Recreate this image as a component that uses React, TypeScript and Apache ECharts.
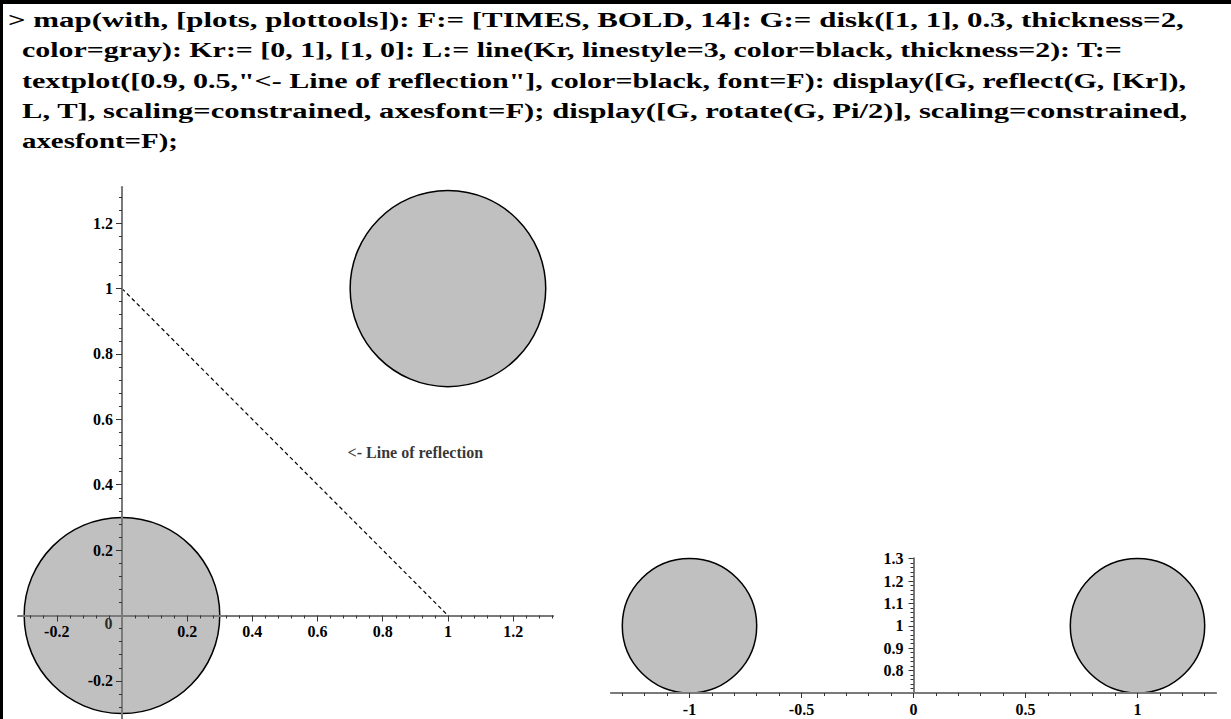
import React, { useEffect, useRef } from 'react';
import * as echarts from 'echarts';

const W = 1231;
const H = 719;

// ---- command text (Maple input) ----
const commandLines = [
  '> map(with, [plots, plottools]): F:= [TIMES, BOLD, 14]: G:= disk([1, 1], 0.3, thickness=2,',
  'color=gray): Kr:= [0, 1], [1, 0]: L:= line(Kr, linestyle=3, color=black, thickness=2): T:=',
  'textplot([0.9, 0.5,"<- Line of reflection"], color=black, font=F): display([G, reflect(G, [Kr]),',
  'L, T], scaling=constrained, axesfont=F); display([G, rotate(G, Pi/2)], scaling=constrained,',
  'axesfont=F);',
];

// ---- left plot: disk, its reflection, line of reflection, annotation ----
const leftDisks = [
  [1, 1, 0.3],
  [0, 0, 0.3],
];
const reflectionLine = [
  [0, 1],
  [1, 0],
];
const annotationPoint = [0.9, 0.5];
const annotationText = '<- Line of reflection';
const originPoint = [0, 0];
const leftXRange = [-0.318, 1.322];
const leftYRange = [-0.316, 1.31];
const leftXTicks = [-0.2, 0.2, 0.4, 0.6, 0.8, 1, 1.2];
const leftYTicks = [-0.2, 0.2, 0.4, 0.6, 0.8, 1, 1.2];

// ---- right plot: disk and its rotation by Pi/2 ----
const rightDisks = [
  [1, 1, 0.3],
  [-1, 1, 0.3],
];
const rightXRange = [-1.35, 1.35];
const rightYRange = [0.7, 1.3];
const rightXTicks = [-1, -0.5, 0, 0.5, 1];
const rightYTicks = [0.8, 0.9, 1, 1.1, 1.2, 1.3];

function minorTicks(from: number, to: number, step: number, skip: number[]) {
  const out: number[] = [];
  const n = Math.round((to - from) / step);
  for (let i = 0; i <= n; i++) {
    const v = Math.round((from + i * step) * 1000) / 1000;
    if (!skip.some((s) => Math.abs(s - v) < 1e-9)) out.push(v);
  }
  return out;
}

const leftXMinor = minorTicks(-0.28, 1.32, 0.04, [...leftXTicks, 0]);
const leftYMinor = minorTicks(-0.28, 1.28, 0.04, [...leftYTicks, 0]);
const rightXMinor = minorTicks(-1.3, 1.3, 0.1, rightXTicks);
const rightYMinor = minorTicks(0.72, 1.28, 0.02, [...rightYTicks, 0.7]);

const CMD_FONT = '"Liberation Serif", serif';
const CMD_SIZE = 22;
const LABEL_FONT = '"Liberation Serif", serif';

// layout of the two plot areas (pixels)
const LEFT_GRID = { left: 18.3, top: 187.2, width: 534.6, height: 531.6 };
const RIGHT_GRID = { left: 611.1, top: 558.6, width: 604.8, height: 134.4 };
// where each text line of the command starts / ends (pixels)
const lineX = [8, 22, 22, 22, 22];
const lineEnd = [1184, 1123, 1186, 1188, 178];
const lineY = [20, 50.3, 80.6, 110.9, 141.2];

const axisLineStyle = { color: '#7a7a7a', width: 2 };
const tickStyle = { color: '#333', width: 1 };
const labelStyle = {
  fontFamily: LABEL_FONT,
  fontWeight: 'bold' as const,
  fontSize: 16,
  color: '#000',
};

function diskRender(params: any, api: any) {
  const c = api.coord([api.value(0), api.value(1)]);
  const s = api.size([api.value(2), api.value(2)]);
  return {
    type: 'ellipse',
    shape: { cx: c[0], cy: c[1], rx: s[0], ry: s[1] },
    style: { fill: '#c0c0c0', stroke: '#000', lineWidth: 1.5 },
  };
}

// distance (px) from the grid's low edge to the value 0 on an axis
function zeroOffset(range: number[], size: number) {
  if (range[0] >= 0 || range[1] <= 0) return 0;
  return -((0 - range[0]) / (range[1] - range[0])) * size;
}

function makeAxis(opts: {
  grid: number;
  range: number[];
  position: string;
  offset: number;
  ticks: number[];
  tickLen: number;
  labels: boolean;
  labelMargin?: number;
}) {
  return {
    type: 'value',
    gridIndex: opts.grid,
    min: opts.range[0],
    max: opts.range[1],
    position: opts.position,
    offset: opts.offset,
    z: 10,
    axisLine: {
      show: true,
      onZero: false,
      lineStyle: axisLineStyle,
    },
    axisTick: {
      show: true,
      customValues: opts.ticks,
      length: opts.tickLen,
      lineStyle: tickStyle,
    },
    axisLabel: opts.labels
      ? {
          show: true,
          customValues: opts.ticks,
          margin: opts.labelMargin,
          formatter: (v: number) => String(v),
          hideOverlap: false,
          ...labelStyle,
        }
      : { show: false },
    splitLine: { show: false },
    minorTick: { show: false },
  };
}

export default function App() {
  const ref = useRef<HTMLDivElement>(null);

  useEffect(() => {
    const el = ref.current;
    if (!el) return;
    const chart = echarts.init(el, undefined, { renderer: 'svg', width: W, height: H });

    const ctx = document.createElement('canvas').getContext('2d');
    const scales = commandLines.map((t, i) => {
      if (!ctx) return 1;
      ctx.font = `bold ${CMD_SIZE}px ${CMD_FONT}`;
      const natural = ctx.measureText(t).width;
      return natural > 0 ? (lineEnd[i] - lineX[i]) / natural : 1;
    });

    const lxOff = zeroOffset(leftYRange, LEFT_GRID.height);
    const lyOff = zeroOffset(leftXRange, LEFT_GRID.width);
    const ryOff = zeroOffset(rightXRange, RIGHT_GRID.width);

    const option: any = {
      animation: false,
      grid: [
        { ...LEFT_GRID, containLabel: false, outerBoundsMode: 'none' },
        { ...RIGHT_GRID, containLabel: false, outerBoundsMode: 'none' },
      ],
      xAxis: [
        makeAxis({ grid: 0, range: leftXRange, position: 'bottom', offset: lxOff, ticks: leftXTicks, tickLen: 6, labels: true, labelMargin: 8 }),
        makeAxis({ grid: 0, range: leftXRange, position: 'bottom', offset: lxOff, ticks: leftXMinor, tickLen: 3, labels: false }),
        makeAxis({ grid: 1, range: rightXRange, position: 'bottom', offset: 0, ticks: rightXTicks, tickLen: 5, labels: true, labelMargin: 8 }),
        makeAxis({ grid: 1, range: rightXRange, position: 'bottom', offset: 0, ticks: rightXMinor, tickLen: 3, labels: false }),
      ],
      yAxis: [
        makeAxis({ grid: 0, range: leftYRange, position: 'left', offset: lyOff, ticks: leftYTicks, tickLen: 6, labels: true, labelMargin: 9 }),
        makeAxis({ grid: 0, range: leftYRange, position: 'left', offset: lyOff, ticks: leftYMinor, tickLen: 3, labels: false }),
        makeAxis({ grid: 1, range: rightYRange, position: 'left', offset: ryOff, ticks: rightYTicks, tickLen: 5, labels: true, labelMargin: 10 }),
        makeAxis({ grid: 1, range: rightYRange, position: 'left', offset: ryOff, ticks: rightYMinor, tickLen: 3, labels: false }),
      ],
      series: [
        {
          type: 'custom',
          xAxisIndex: 0,
          yAxisIndex: 0,
          data: leftDisks,
          renderItem: diskRender,
          encode: { x: 0, y: 1 },
          clip: false,
          silent: true,
          z: 1,
        },
        {
          type: 'line',
          xAxisIndex: 0,
          yAxisIndex: 0,
          data: reflectionLine,
          symbol: 'none',
          silent: true,
          lineStyle: { color: '#000', width: 1.2, type: [4, 3] },
          z: 3,
        },
        {
          type: 'scatter',
          xAxisIndex: 0,
          yAxisIndex: 0,
          data: [annotationPoint],
          symbolSize: 0,
          silent: true,
          label: {
            show: true,
            position: 'inside',
            formatter: annotationText,
            fontFamily: LABEL_FONT,
            fontWeight: 'bold',
            fontSize: 16,
            color: '#000',
          },
        },
        {
          type: 'scatter',
          xAxisIndex: 0,
          yAxisIndex: 0,
          data: [originPoint],
          symbolSize: 0,
          silent: true,
          z: 12,
          label: {
            show: true,
            position: 'inside',
            offset: [-13.5, 8.3],
            formatter: '0',
            ...labelStyle,
          },
        },
        {
          type: 'custom',
          xAxisIndex: 2,
          yAxisIndex: 2,
          data: rightDisks,
          renderItem: diskRender,
          encode: { x: 0, y: 1 },
          clip: false,
          silent: true,
          z: 1,
        },
      ],
      graphic: [
        { type: 'rect', shape: { x: 0, y: 0, width: W, height: 4 }, style: { fill: '#000' }, silent: true },
        { type: 'rect', shape: { x: 0, y: 0, width: 3, height: H }, style: { fill: '#000' }, silent: true },
        ...commandLines.map((t, i) => ({
          type: 'text',
          x: lineX[i],
          y: lineY[i],
          scaleX: scales[i],
          silent: true,
          style: {
            text: t,
            fontFamily: CMD_FONT,
            fontWeight: 'bold',
            fontSize: CMD_SIZE,
            fill: '#000',
            verticalAlign: 'middle',
            align: 'left',
          },
        })),
      ],
    };

    chart.setOption(option);
    return () => chart.dispose();
  }, []);

  return (
    <div
      ref={ref}
      style={{ position: 'fixed', left: 0, top: 0, width: W, height: H, background: '#fff' }}
    />
  );
}
